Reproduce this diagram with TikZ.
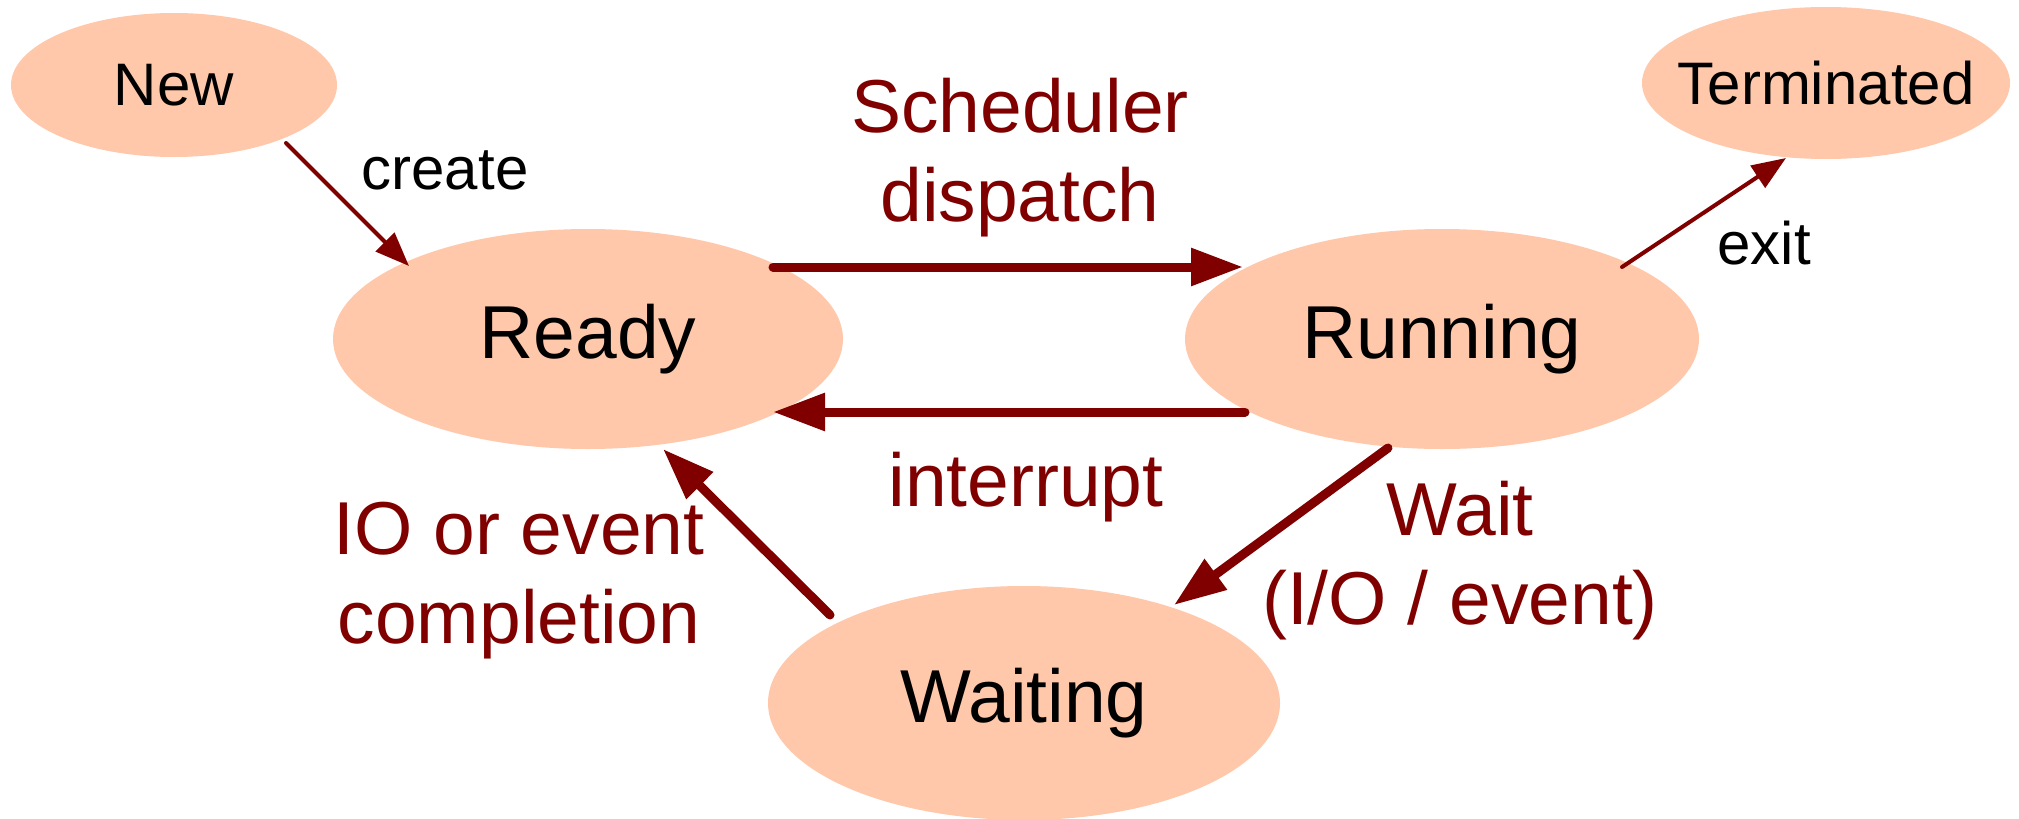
\documentclass[tikz,border=0pt]{standalone}
\usepackage{fontspec}
\setmainfont{Liberation Sans}
\usetikzlibrary{shapes.geometric,arrows.meta,calc}
\definecolor{stfill}{HTML}{FFC8AA}
\definecolor{arr}{HTML}{800000}
\begin{document}
\begin{tikzpicture}[x=0.5pt,y=-0.5pt,
  state/.style={ellipse, fill=stfill, inner sep=0pt, text=black},
  bigst/.style={state, font=\fontsize{37.5}{42}\selectfont},
  smallst/.style={state, font=\fontsize{30}{34}\selectfont},
  bigarr/.style={draw=arr, line width=4.5pt, line cap=round, -{Triangle[length=26pt,width=18pt]}},
  smallarr/.style={draw=arr, line width=2pt, line cap=round, -{Triangle[length=17pt,width=13pt]}},
  lbl/.style={text=arr, align=center, inner sep=0pt, font=\fontsize{37.5}{44.5}\selectfont},
  slbl/.style={text=black, inner sep=0pt, font=\fontsize{30}{34}\selectfont},
]
\useasboundingbox (0,0) rectangle (2019,819);
\fill[white] (0,0) rectangle (2019,819);

\node[smallst, minimum width=163pt, minimum height=72pt] (new) at (174,85) {New};
\node[state, minimum width=184pt, minimum height=76pt,
      label={[font=\fontsize{30}{34}\selectfont, inner sep=0pt]center:Terminated}] (term) at (1826,83) {};
\node[bigst, minimum width=255pt, minimum height=110pt] (ready) at (588,339) {Ready};
\node[bigst, minimum width=257pt, minimum height=110pt] (run) at (1442,339) {Running};
\node[bigst, minimum width=256pt, minimum height=117pt] (wait) at (1024,703) {Waiting};

\draw[smallarr] ($(new)+(112,58)$) -- ($(ready)+(-179,-73)$);
\draw[bigarr] ($(ready)+(185,-72)$) -- ($(run)+(-199,-72)$);
\draw[bigarr] ($(run)+(-197,73)$) -- ($(ready)+(185,73)$);
\draw[bigarr] ($(run)+(-54,109)$) -- ($(wait)+(150,-98)$);
\draw[bigarr] ($(wait)+(-194,-88)$) -- ($(ready)+(75,110)$);
\draw[smallarr] ($(run)+(180,-72)$) -- ($(term)+(-40,75)$);

\node[slbl] (lcreate) at (445,170) {create};
\node[slbl] (lexit) at (1764,243) {exit};
\node[lbl] (lsched) at (1020,158) {Scheduler\\dispatch};
\node[lbl] (lint) at (1026,487) {interrupt};
\node[lbl] (lwait) at (1460,561) {Wait\\(I/O / event)};
\node[lbl] (lio) at (519,581) {IO or event\\completion};
\end{tikzpicture}
\end{document}
